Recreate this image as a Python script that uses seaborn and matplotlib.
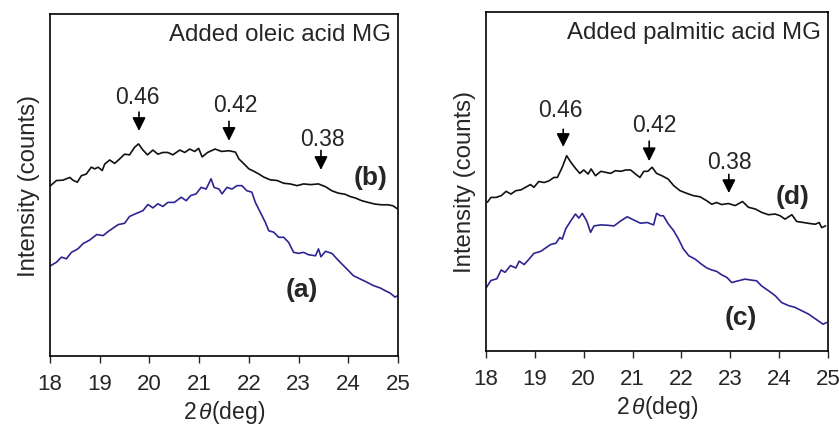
import matplotlib
matplotlib.use("Agg")
import matplotlib.pyplot as plt
import seaborn as sns
import pandas as pd

# ---- data (2theta in deg, intensity in arbitrary offset units) ----
# oleic acid MG panel
oleic_b_x = [18.01, 18.13, 18.26, 18.40, 18.46, 18.55, 18.63, 18.73, 18.83, 18.90, 18.97, 19.05,
             19.10, 19.20, 19.30, 19.40, 19.50, 19.60, 19.70, 19.78, 19.87, 19.96, 20.07, 20.17,
             20.27, 20.37, 20.47, 20.61, 20.71, 20.81, 20.91, 20.99, 21.06, 21.17, 21.32, 21.45,
             21.60, 21.73, 21.80, 21.90, 22.00, 22.10, 22.20, 22.30, 22.43, 22.57, 22.70, 22.83,
             22.97, 23.10, 23.24, 23.40, 23.54, 23.67, 23.80, 23.93, 24.04, 24.14, 24.27, 24.40,
             24.54, 24.67, 24.80, 24.90, 24.99]
oleic_b_y = [49.8, 51.3, 51.4, 52.2, 51.4, 50.8, 52.7, 53.2, 55.2, 54.7, 55.2, 54.2,
             56.1, 57.3, 56.3, 57.6, 59.0, 58.8, 61.0, 62.0, 60.2, 58.8, 60.2, 59.0,
             59.5, 59.5, 58.8, 60.2, 59.5, 60.5, 59.8, 60.7, 58.2, 59.5, 60.5, 59.8,
             60.0, 59.6, 57.6, 56.2, 54.7, 54.0, 53.2, 52.3, 51.5, 51.3, 50.5, 50.3,
             49.8, 50.3, 50.1, 50.3, 49.5, 48.3, 47.6, 47.3, 46.6, 46.2, 45.4, 44.9,
             44.4, 44.2, 44.2, 43.9, 43.0]

oleic_a_x = [18.01, 18.13, 18.23, 18.33, 18.43, 18.56, 18.67, 18.80, 18.94, 19.07, 19.17, 19.27,
             19.37, 19.50, 19.60, 19.74, 19.87, 19.97, 20.07, 20.17, 20.27, 20.37, 20.50, 20.64,
             20.74, 20.83, 20.94, 21.04, 21.14, 21.24, 21.30, 21.40, 21.46, 21.56, 21.66, 21.76,
             21.86, 21.96, 22.06, 22.13, 22.23, 22.33, 22.40, 22.50, 22.60, 22.70, 22.80, 22.90,
             23.00, 23.10, 23.20, 23.34, 23.40, 23.45, 23.54, 23.67, 23.77, 23.87, 24.00, 24.10,
             24.24, 24.37, 24.50, 24.64, 24.74, 24.84, 24.94, 24.99]
oleic_a_y = [26.4, 27.4, 28.9, 28.4, 30.3, 31.3, 32.9, 33.9, 35.5, 35.2, 36.4, 37.4,
             38.4, 38.8, 40.8, 41.7, 42.5, 44.3, 43.3, 44.5, 43.7, 44.9, 44.9, 46.4,
             45.4, 46.9, 47.4, 49.3, 48.8, 51.8, 49.3, 48.8, 47.4, 49.3, 48.8, 49.8,
             49.8, 48.3, 47.9, 44.9, 42.0, 39.1, 36.6, 36.2, 34.7, 34.7, 33.2, 30.3,
             30.0, 30.3, 29.6, 29.3, 31.3, 29.0, 30.6, 30.0, 28.4, 26.9, 25.0, 23.5,
             22.5, 21.6, 20.6, 19.9, 19.1, 18.4, 17.2, 17.6]

# palmitic acid MG panel
palm_d_x = [18.03, 18.10, 18.20, 18.31, 18.41, 18.51, 18.61, 18.71, 18.81, 18.91, 18.98, 19.08,
            19.19, 19.29, 19.39, 19.46, 19.56, 19.65, 19.74, 19.83, 19.92, 20.00, 20.09, 20.15,
            20.24, 20.35, 20.45, 20.55, 20.65, 20.76, 20.86, 20.96, 21.06, 21.15, 21.23, 21.31,
            21.40, 21.49, 21.60, 21.73, 21.84, 21.97, 22.11, 22.25, 22.38, 22.52, 22.62, 22.72,
            22.82, 22.96, 23.10, 23.25, 23.37, 23.51, 23.64, 23.78, 23.92, 24.02, 24.12, 24.26,
            24.36, 24.50, 24.63, 24.74, 24.82, 24.87, 24.95]
palm_d_y = [43.9, 45.3, 45.3, 45.8, 47.1, 46.3, 47.3, 47.5, 48.3, 49.1, 48.3, 50.0,
            49.7, 50.2, 51.2, 51.2, 54.2, 57.6, 55.6, 53.9, 52.4, 53.4, 52.2, 53.7,
            51.7, 53.0, 52.7, 52.4, 53.2, 53.0, 53.4, 53.4, 52.2, 51.2, 53.0, 53.0,
            54.2, 52.4, 51.7, 50.7, 48.8, 47.3, 46.5, 45.8, 45.5, 44.3, 43.3, 43.8,
            43.2, 43.5, 42.9, 44.1, 42.4, 41.9, 40.9, 40.2, 40.4, 39.9, 38.9, 40.2,
            38.2, 37.9, 37.6, 37.4, 37.9, 36.4, 36.9]

palm_c_x = [18.01, 18.10, 18.22, 18.31, 18.39, 18.50, 18.61, 18.68, 18.78, 18.88, 18.98, 19.12,
            19.22, 19.32, 19.43, 19.51, 19.56, 19.63, 19.73, 19.83, 19.90, 19.97, 20.06, 20.14,
            20.21, 20.35, 20.48, 20.62, 20.75, 20.89, 21.03, 21.16, 21.30, 21.43, 21.49, 21.57,
            21.63, 21.73, 21.84, 21.94, 22.04, 22.15, 22.28, 22.42, 22.52, 22.62, 22.72, 22.82,
            22.93, 23.03, 23.16, 23.30, 23.44, 23.54, 23.64, 23.78, 23.92, 24.05, 24.19, 24.32,
            24.46, 24.60, 24.70, 24.80, 24.90, 24.97]
palm_c_y = [18.8, 20.8, 21.3, 23.9, 23.2, 25.2, 24.5, 26.5, 25.5, 27.1, 28.8, 29.4,
            30.4, 31.4, 31.8, 33.5, 33.0, 36.0, 38.3, 40.4, 39.2, 40.6, 38.4, 35.0,
            36.9, 37.2, 37.1, 36.9, 38.3, 39.6, 38.6, 37.7, 37.9, 37.2, 40.6, 39.9,
            39.9, 37.5, 35.5, 33.0, 30.1, 28.1, 27.1, 25.5, 24.5, 23.9, 23.5, 22.5,
            21.7, 20.2, 20.7, 21.2, 20.9, 20.7, 19.2, 17.8, 16.3, 14.3, 13.4, 12.9,
            11.9, 10.9, 9.9, 8.9, 7.9, 8.4]

# peak markers: d-spacing label, 2theta, arrow tail, arrow tip, label position
oleic_peaks = ["0.46", "0.42", "0.38"]
oleic_peak_x = [19.79, 21.60, 23.45]
oleic_peak_tail = [71.3, 68.6, 60.1]
oleic_peak_tip = [65.8, 62.9, 54.4]
oleic_label_x = [19.75, 21.72, 23.47]
oleic_label_y = [76.0, 73.4, 63.7]

palm_peaks = ["0.46", "0.42", "0.38"]
palm_peak_x = [19.58, 21.34, 22.97]
palm_peak_tail = [65.4, 61.9, 52.1]
palm_peak_tip = [60.2, 56.0, 46.6]
palm_label_x = [19.53, 21.44, 22.99]
palm_label_y = [71.1, 66.7, 55.8]

black = "#111111"
blue = "#2e2592"

sns.set_style("ticks")
plt.rcParams['font.family'] = ['Liberation Sans', 'DejaVu Sans']
plt.rcParams['mathtext.fontset'] = 'custom'
plt.rcParams['mathtext.it'] = 'Liberation Sans:italic'
plt.rcParams['mathtext.rm'] = 'Liberation Sans'

fig = plt.figure(figsize=(8.39, 4.27), dpi=100)
ax1 = fig.add_axes([0.0596, 0.164, 0.4148, 0.801])
ax2 = fig.add_axes([0.5793, 0.1756, 0.4076, 0.794])


def draw_panel(ax, top_x, top_y, low_x, low_y, title, top_lab, low_lab,
               top_lab_pos, low_lab_pos, peaks, px, ptail, ptip, lx, ly):
    df_top = pd.DataFrame({"two_theta": top_x, "intensity": top_y})
    df_low = pd.DataFrame({"two_theta": low_x, "intensity": low_y})
    sns.lineplot(data=df_top, x="two_theta", y="intensity", ax=ax, color=black, lw=1.2, sort=False)
    sns.lineplot(data=df_low, x="two_theta", y="intensity", ax=ax, color=blue, lw=1.2, sort=False)

    ax.set_xlim(18, 25)
    ax.set_ylim(0, 100)
    ax.set_xticks(range(18, 26))
    ax.set_yticks([])
    ax.tick_params(axis='x', direction='out', length=5, width=1, labelsize=16, pad=7)
    for s in ax.spines.values():
        s.set_linewidth(1.2)
        s.set_color("black")
    ax.set_xlabel(r"2$\,\theta$(deg)", fontsize=16.5, labelpad=3)
    ax.set_ylabel("Intensity (counts)", fontsize=17.3, labelpad=7)

    ax.text(0.98, 0.94, title, transform=ax.transAxes, ha="right", va="center", fontsize=17.3)
    ax.text(top_lab_pos[0], top_lab_pos[1], top_lab, ha="center", va="center",
            fontsize=19, fontweight="bold")
    ax.text(low_lab_pos[0], low_lab_pos[1], low_lab, ha="center", va="center",
            fontsize=19, fontweight="bold")

    for lab, x, t0, t1, tx, ty in zip(peaks, px, ptail, ptip, lx, ly):
        ax.annotate("", xy=(x, t1), xytext=(x, t0),
                    arrowprops=dict(arrowstyle="-|>", color="black", lw=1.2,
                                    mutation_scale=20, shrinkA=0, shrinkB=0))
        ax.text(tx, ty, lab, ha="center", va="center", fontsize=16.5)


draw_panel(ax1, oleic_b_x, oleic_b_y, oleic_a_x, oleic_a_y, "Added oleic acid MG",
           "(b)", "(a)", (24.44, 52.3), (23.07, 19.6),
           oleic_peaks, oleic_peak_x, oleic_peak_tail, oleic_peak_tip, oleic_label_x, oleic_label_y)
draw_panel(ax2, palm_d_x, palm_d_y, palm_c_x, palm_c_y, "Added palmitic acid MG",
           "(d)", "(c)", (24.28, 45.7), (23.22, 10.0),
           palm_peaks, palm_peak_x, palm_peak_tail, palm_peak_tip, palm_label_x, palm_label_y)

fig.savefig("out.png", dpi=100)
